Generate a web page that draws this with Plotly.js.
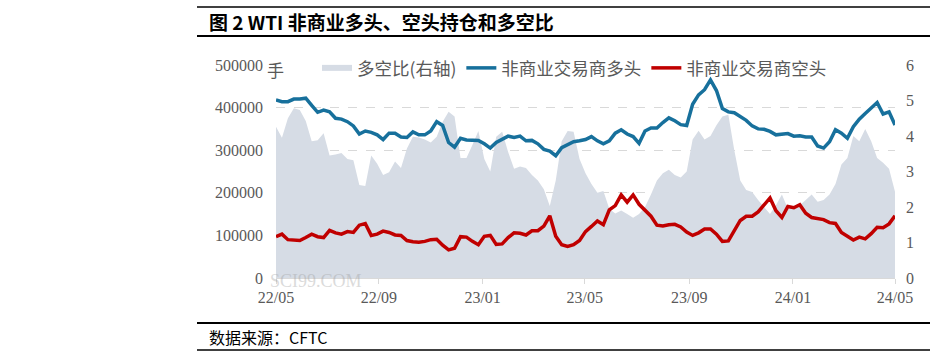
<!DOCTYPE html>
<html>
<head>
<meta charset="utf-8">
<script src="https://cdn.plot.ly/plotly-3.0.1.min.js"></script>
<style>
html,body{margin:0;padding:0;background:#fff;}
#chart{width:939px;height:357px;}
</style>
</head>
<body>
<div id="chart"></div>
<script>
// Weekly CFTC reports, first report date and count
const startDate = "2022-05-03";
const weekCount = 105;

// 非商业交易商多头 (contracts)
const longPos = [
418000,414000,414000,420000,420000,422000,405000,389000,394000,390000,
375000,373000,367000,357000,338000,345000,342000,336000,325000,340000,
340000,331000,330000,343000,336000,336000,345000,367000,358000,318000,
307000,328000,324000,324000,323000,315000,305000,318000,326000,333000,
330000,333000,322000,323000,315000,302000,298000,287000,306000,312000,
320000,322000,325000,332000,322000,315000,322000,340000,348000,338000,
332000,316000,345000,352000,352000,365000,376000,369000,360000,358000,
408000,430000,442000,465000,440000,398000,390000,388000,378000,370000,
357000,350000,349000,344000,336000,338000,339000,333000,334000,331000,
331000,310000,305000,320000,348000,340000,328000,355000,373000,386000,
400000,412000,385000,390000,359000];

// 非商业交易商空头 (contracts)
const shortPos = [
97000,103000,90000,88000,88000,95000,103000,97000,95000,112000,
106000,103000,109000,107000,124000,128000,100000,103000,110000,107000,
101000,100000,88000,85000,84000,86000,90000,91000,77000,66000,
70000,97000,96000,86000,78000,98000,100000,79000,80000,95000,
106000,105000,101000,111000,111000,122000,146000,98000,78000,74000,
78000,88000,109000,121000,134000,125000,160000,170000,195000,178000,
195000,173000,160000,145000,124000,122000,125000,126000,120000,108000,
100000,106000,115000,115000,103000,86000,87000,110000,135000,145000,
145000,155000,172000,188000,158000,142000,168000,165000,172000,152000,
142000,139000,137000,130000,128000,107000,98000,89000,96000,92000,
104000,119000,118000,127000,146000];

// 多空比 (right axis)
const ratio = [
4.26,3.95,4.50,4.78,4.73,4.42,3.85,3.88,4.08,3.45,
3.48,3.52,3.35,3.32,2.62,2.59,3.45,3.22,2.90,2.98,
3.28,3.10,3.65,3.98,3.96,3.90,3.82,3.98,4.40,4.68,
4.55,3.38,3.38,3.75,4.14,3.35,3.00,3.98,4.12,3.55,
3.08,3.14,3.10,2.90,2.75,2.50,2.03,2.75,3.85,4.14,
4.12,3.35,2.95,2.65,2.40,2.45,1.95,1.82,1.90,1.80,
1.70,1.80,2.00,2.35,2.75,2.95,3.05,2.90,2.83,3.00,
3.90,4.15,3.90,4.00,4.30,4.55,4.60,3.60,2.75,2.48,
2.42,2.20,2.00,1.80,2.05,2.35,1.95,2.00,2.05,2.20,
2.35,2.15,2.20,2.35,2.65,3.20,3.38,4.00,3.85,4.20,
3.85,3.38,3.25,3.08,2.43];

const seriesNames = ["多空比(右轴)", "非商业交易商多头", "非商业交易商空头"];
const tickDates = ["2022-05-03","2022-09-01","2023-01-01","2023-05-01","2023-09-01","2024-01-01","2024-04-30"];
const tickLabels = ["22/05","22/09","23/01","23/05","23/09","24/01","24/05"];
const leftTicks = [0,100000,200000,300000,400000,500000];
const rightTicks = [0,1,2,3,4,5,6];

const dates = [];
{
  const d0 = new Date(startDate + "T00:00:00Z");
  for (let i = 0; i < weekCount; i++) {
    const d = new Date(d0.getTime() + i * 7 * 86400000);
    dates.push(d.toISOString().slice(0,10));
  }
}

const serif = "Liberation Serif, DejaVu Serif, serif";
const cjk = "Noto Sans CJK SC, Noto Sans, sans-serif";
const grey = "#595959";

// Ratio area lives on the base axis (y, right side) so the lines on the
// overlaid left axis (y2) are drawn on top of it.
const traces = [
  {x: dates, y: ratio, name: seriesNames[0], yaxis: "y", type: "scatter",
   mode: "none", fill: "tozeroy", fillcolor: "#d6dce5"},
  {x: dates, y: longPos, name: seriesNames[1], yaxis: "y2", type: "scatter", mode: "lines",
   line: {color: "#17709c", width: 3.5}},
  {x: dates, y: shortPos, name: seriesNames[2], yaxis: "y2", type: "scatter", mode: "lines",
   line: {color: "#c00000", width: 3.5}}
];

const L = 276, R = 895, T = 65, B = 278;
const W = R - L, H = B - T;
const px = v => (v - L) / W;
const py = v => (B - v) / H;

const layout = {
  width: 939, height: 357,
  margin: {l: L, r: 939 - R, t: T, b: 357 - B, pad: 0},
  paper_bgcolor: "#fff", plot_bgcolor: "#fff",
  showlegend: true,
  legend: {orientation: "h", x: px(317), xanchor: "left", y: py(68), yanchor: "middle",
           bgcolor: "rgba(0,0,0,0)", font: {family: cjk, size: 17.5, color: grey},
           traceorder: "normal", itemwidth: 30},
  xaxis: {type: "date", range: [dates[0], dates[dates.length-1]],
          tickvals: tickDates, ticktext: tickLabels,
          showgrid: false, zeroline: false, showline: true, linecolor: "#d9d9d9", linewidth: 1,
          ticks: "outside", ticklen: 5, tickcolor: "#d9d9d9",
          tickfont: {family: serif, size: 16, color: grey}},
  yaxis: {range: [0, 6], tickvals: rightTicks, side: "right",
          showgrid: false, zeroline: false, showline: false, ticks: "",
          ticklabelstandoff: 10,
          tickfont: {family: serif, size: 16, color: grey}},
  yaxis2: {range: [0, 500000], tickvals: leftTicks, ticktext: leftTicks.map(String),
           overlaying: "y", side: "left",
           showgrid: true, gridcolor: "#d9d9d9", griddash: "dash", gridwidth: 1,
           zeroline: false, showline: false, ticks: "", ticklabelstandoff: 12,
           tickfont: {family: serif, size: 16, color: grey}},
  annotations: [
    {text: "图 2 WTI 非商业多头、空头持仓和多空比", xref: "paper", yref: "paper",
     x: px(207), y: py(22), xanchor: "left", yanchor: "middle", showarrow: false,
     font: {family: cjk, size: 19, color: "#000", weight: "bold"}},
    {text: "数据来源：CFTC", xref: "paper", yref: "paper",
     x: px(207), y: py(337), xanchor: "left", yanchor: "middle", showarrow: false,
     font: {family: cjk, size: 16, color: "#000"}},
    {text: "手", xref: "paper", yref: "paper", x: px(275), y: py(69),
     xanchor: "center", yanchor: "middle", showarrow: false,
     font: {family: cjk, size: 17, color: grey}},
    {text: "SCI99.COM", xref: "paper", yref: "paper", x: px(268), y: py(281),
     xanchor: "left", yanchor: "middle", showarrow: false, opacity: 0.35,
     font: {family: serif, size: 18, color: "#9a9a9a"}}
  ],
  shapes: [
    {type: "line", xref: "paper", yref: "paper", x0: px(197), x1: px(930), y0: py(7), y1: py(7),
     line: {color: "#000", width: 1.5}},
    {type: "line", xref: "paper", yref: "paper", x0: px(197), x1: px(930), y0: py(36), y1: py(36),
     line: {color: "#000", width: 2}},
    {type: "line", xref: "paper", yref: "paper", x0: px(197), x1: px(930), y0: py(323), y1: py(323),
     line: {color: "#000", width: 2}},
    {type: "line", xref: "paper", yref: "paper", x0: px(197), x1: px(930), y0: py(350), y1: py(350),
     line: {color: "#000", width: 1.5}}
  ]
};

Plotly.newPlot("chart", traces, layout, {displayModeBar: false, staticPlot: true});
</script>
</body>
</html>
